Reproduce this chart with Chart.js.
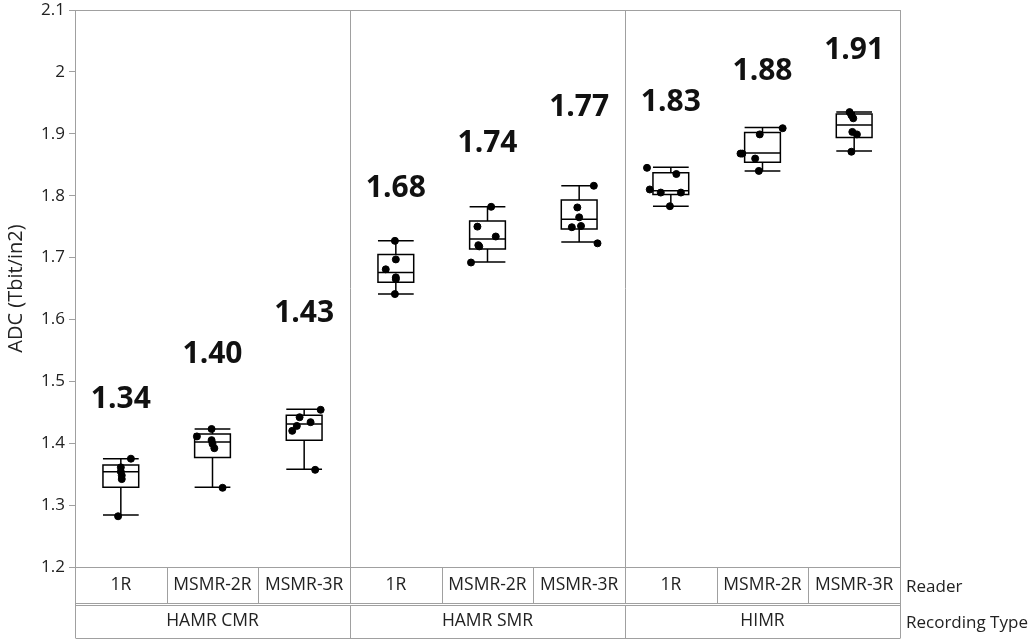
<!DOCTYPE html>
<html>
<head>
<meta charset="utf-8">
<script src="https://cdn.jsdelivr.net/npm/chart.js@4.4.1/dist/chart.umd.min.js"></script>
<style>
  html, body { margin: 0; padding: 0; background: #fff; }
  #wrap { width: 1036px; height: 640px; position: relative; }
</style>
</head>
<body>
<div id="wrap"><canvas id="chart"></canvas></div>
<script>
const readers = ['1R', 'MSMR-2R', 'MSMR-3R'];
const recordingTypes = ['HAMR CMR', 'HAMR SMR', 'HIMR'];
const meanLabels = ['1.34', '1.40', '1.43', '1.68', '1.74', '1.77', '1.83', '1.88', '1.91'];
const yTicks = [1.2, 1.3, 1.4, 1.5, 1.6, 1.7, 1.8, 1.9, 2.0, 2.1];

// box plot stats per reader/recording type
const whiskerLow  = [1.284, 1.329, 1.358, 1.641, 1.693, 1.725, 1.783, 1.840, 1.872];
const q1          = [1.329, 1.377, 1.405, 1.660, 1.714, 1.746, 1.802, 1.854, 1.894];
const median      = [1.354, 1.402, 1.431, 1.676, 1.730, 1.762, 1.808, 1.869, 1.914];
const q3          = [1.365, 1.415, 1.445, 1.705, 1.759, 1.793, 1.837, 1.902, 1.932];
const whiskerHigh = [1.375, 1.423, 1.455, 1.727, 1.782, 1.816, 1.846, 1.910, 1.935];

// individual measurements
const points = [
  [1.375, 1.361, 1.354, 1.348, 1.342, 1.282],
  [1.423, 1.411, 1.405, 1.399, 1.392, 1.328],
  [1.454, 1.442, 1.434, 1.428, 1.420, 1.357],
  [1.727, 1.697, 1.681, 1.668, 1.665, 1.641],
  [1.782, 1.750, 1.734, 1.720, 1.718, 1.692],
  [1.816, 1.781, 1.765, 1.751, 1.749, 1.723],
  [1.845, 1.835, 1.810, 1.805, 1.805, 1.783],
  [1.909, 1.899, 1.868, 1.868, 1.860, 1.840],
  [1.935, 1.930, 1.925, 1.903, 1.899, 1.871]
];
// horizontal jitter of the dots (category units)
const jitter = [
  [0.11, 0, 0, 0.01, 0.01, -0.03],
  [-0.01, -0.17, -0.01, 0, 0.02, 0.11],
  [0.18, -0.05, 0.07, -0.08, -0.13, 0.12],
  [-0.01, 0, -0.11, 0, 0, -0.01],
  [0.04, -0.11, 0.09, -0.10, -0.09, -0.18],
  [0.16, -0.02, 0, 0.02, -0.08, 0.20],
  [-0.26, 0.06, -0.23, -0.11, 0.11, -0.01],
  [0.22, -0.03, -0.24, -0.22, -0.08, -0.04],
  [-0.05, -0.03, -0.01, -0.02, 0.03, -0.03]
];
// where the mean labels sit (value units)
const labelY = [1.470, 1.543, 1.609, 1.812, 1.885, 1.942, 1.951, 2.000, 2.035];

const FONT = '"Open Sans", "Noto Sans", sans-serif';
const nCat = readers.length * recordingTypes.length;

const scatterData = [];
points.forEach((arr, i) => {
  arr.forEach((v, j) => scatterData.push({ x: i + jitter[i][j], y: v }));
});

const boxPlugin = {
  id: 'boxes',
  beforeDatasetsDraw(chart) {
    const { ctx, chartArea: a, scales: { x, y } } = chart;
    ctx.save();
    // group separators
    ctx.strokeStyle = '#a0a0a0';
    ctx.lineWidth = 1;
    for (let g = 1; g < recordingTypes.length; g++) {
      const px = Math.round(x.getPixelForValue(g * readers.length - 0.5)) + 0.5;
      ctx.beginPath();
      ctx.moveTo(px, a.top);
      ctx.lineTo(px, a.bottom);
      ctx.stroke();
    }
    ctx.strokeRect(Math.round(a.left) + 0.5, Math.round(a.top) + 0.5, Math.round(a.width), Math.round(a.height));

    // boxes and whiskers
    const half = (x.getPixelForValue(1) - x.getPixelForValue(0)) * 0.195;
    ctx.strokeStyle = '#000';
    ctx.lineWidth = 1.5;
    for (let i = 0; i < nCat; i++) {
      const cx = x.getPixelForValue(i);
      const yLo = y.getPixelForValue(whiskerLow[i]);
      const yQ1 = y.getPixelForValue(q1[i]);
      const yMd = y.getPixelForValue(median[i]);
      const yQ3 = y.getPixelForValue(q3[i]);
      const yHi = y.getPixelForValue(whiskerHigh[i]);
      ctx.beginPath();
      ctx.rect(cx - half, yQ3, half * 2, yQ1 - yQ3);
      ctx.moveTo(cx - half, yMd); ctx.lineTo(cx + half, yMd);
      ctx.moveTo(cx, yQ1); ctx.lineTo(cx, yLo);
      ctx.moveTo(cx, yQ3); ctx.lineTo(cx, yHi);
      ctx.moveTo(cx - half, yLo); ctx.lineTo(cx + half, yLo);
      ctx.moveTo(cx - half, yHi); ctx.lineTo(cx + half, yHi);
      ctx.stroke();
    }
    ctx.restore();
  },
  afterDraw(chart) {
    const { ctx, chartArea: a, scales: { x, y } } = chart;
    ctx.save();
    // mean labels
    ctx.fillStyle = '#111';
    ctx.font = 'bold 30px ' + FONT;
    ctx.textAlign = 'center';
    ctx.textBaseline = 'middle';
    meanLabels.forEach((t, i) => {
      ctx.fillText(t, x.getPixelForValue(i), y.getPixelForValue(labelY[i]));
    });

    // reader / recording type table under the plot
    const r1Top = a.bottom, r1Bot = a.bottom + 36;
    const r2Top = r1Bot + 2, r2Bot = r2Top + 33;
    const L = Math.round(a.left) + 0.5, R = Math.round(a.right) + 0.5;
    ctx.strokeStyle = '#a0a0a0';
    ctx.lineWidth = 1;
    ctx.beginPath();
    ctx.moveTo(L, r1Top); ctx.lineTo(L, r2Bot);
    ctx.moveTo(R, r1Top); ctx.lineTo(R, r2Bot);
    [r1Bot, r2Top, r2Bot].forEach(yy => {
      ctx.moveTo(L, Math.round(yy) + 0.5); ctx.lineTo(R, Math.round(yy) + 0.5);
    });
    for (let i = 1; i < nCat; i++) {
      const px = Math.round(x.getPixelForValue(i - 0.5)) + 0.5;
      ctx.moveTo(px, r1Top); ctx.lineTo(px, r1Bot);
      if (i % readers.length === 0) { ctx.moveTo(px, r2Top); ctx.lineTo(px, r2Bot); }
    }
    ctx.stroke();

    ctx.fillStyle = '#222';
    ctx.font = '17.5px ' + FONT;
    for (let i = 0; i < nCat; i++) {
      ctx.fillText(readers[i % readers.length], x.getPixelForValue(i), (r1Top + r1Bot) / 2);
    }
    recordingTypes.forEach((t, g) => {
      ctx.fillText(t, x.getPixelForValue(g * readers.length + 1), (r2Top + r2Bot) / 2);
    });
    ctx.font = '17px ' + FONT;
    ctx.textAlign = 'left';
    ctx.fillText('Reader', a.right + 6, (r1Top + r1Bot) / 2 + 2);
    ctx.fillText('Recording Type', a.right + 6, (r2Top + r2Bot) / 2 + 2);
    ctx.restore();
  }
};

new Chart(document.getElementById('chart'), {
  type: 'scatter',
  data: {
    datasets: [{
      label: 'ADC',
      data: scatterData,
      backgroundColor: '#000',
      borderColor: '#000',
      pointRadius: 3.5,
      pointHoverRadius: 3.5
    }]
  },
  options: {
    responsive: true,
    maintainAspectRatio: false,
    animation: false,
    layout: { padding: { top: 10, right: 136, bottom: 73, left: 0 } },
    plugins: { legend: { display: false }, tooltip: { enabled: false } },
    scales: {
      x: { type: 'linear', min: -0.5, max: nCat - 0.5, display: false },
      y: {
        min: 1.2,
        max: 2.1,
        afterBuildTicks: s => { s.ticks = yTicks.map(v => ({ value: v })); },
        afterFit: s => { s.width = 75; s.paddingTop = 0; s.paddingBottom = 0; },
        grid: { drawOnChartArea: false, drawTicks: true, tickLength: 6, color: '#a0a0a0' },
        border: { display: false },
        ticks: {
          color: '#222',
          font: { family: FONT, size: 17 },
          padding: 4,
          callback: v => String(+v.toFixed(1))
        },
        title: {
          display: true,
          text: 'ADC (Tbit/in2)',
          color: '#222',
          font: { family: FONT, size: 20 },
          padding: { top: 4, bottom: 0 }
        }
      }
    }
  },
  plugins: [boxPlugin]
});
</script>
</body>
</html>
